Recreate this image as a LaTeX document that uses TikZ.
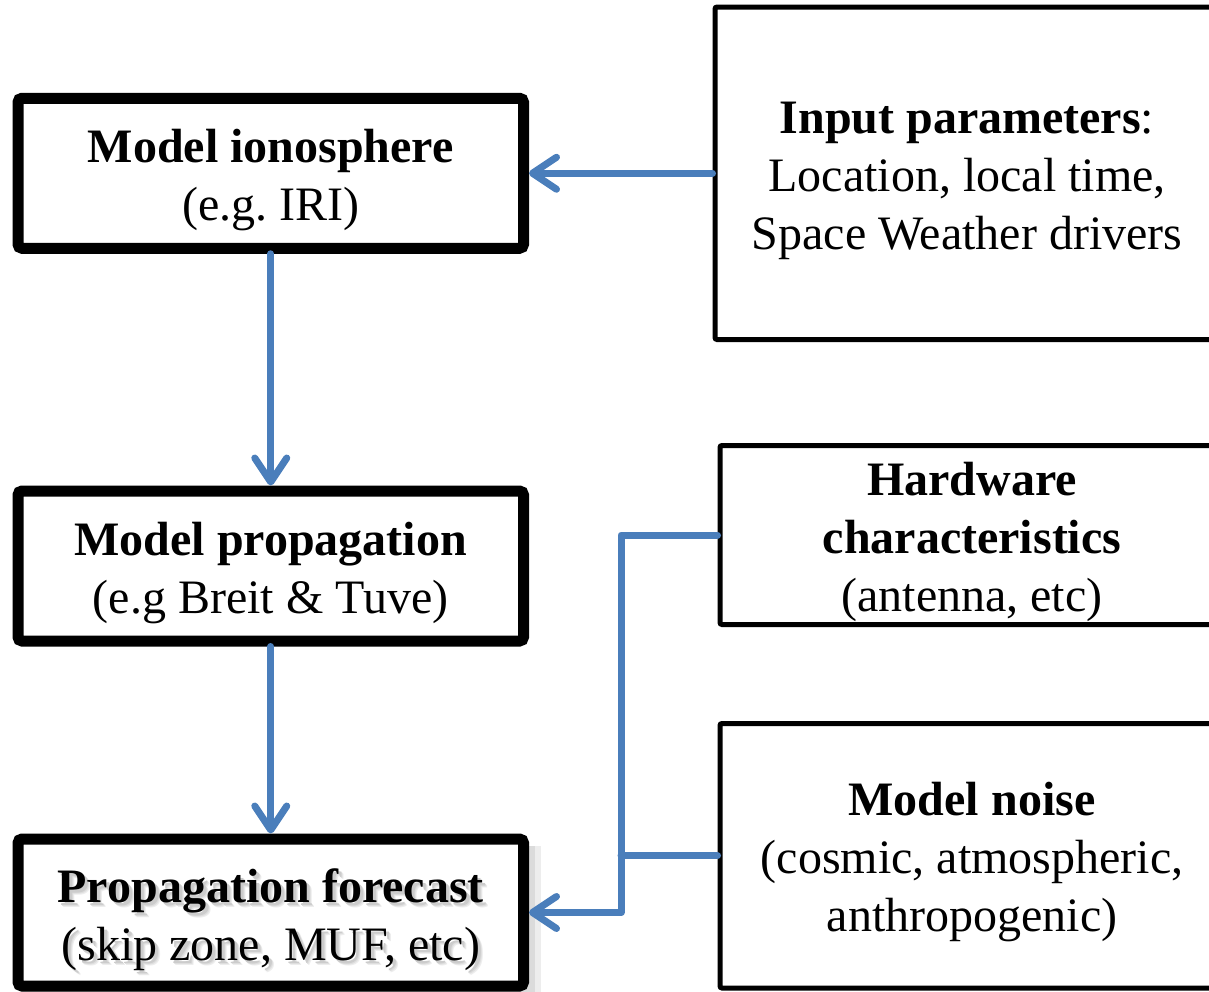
\documentclass[tikz,border=0pt]{standalone}
\usepackage{fontspec}
\newfontfamily\tnr{Liberation Serif}
\usetikzlibrary{arrows.meta,calc}
\definecolor{flowblue}{RGB}{74,126,187}
\newcommand{\forecasttext}{\textbf{Propagation forecast}\\(skip zone, MUF, etc)}
\begin{document}
\begin{tikzpicture}[x=0.5pt,y=-0.5pt,
  every node/.style={font=\tnr\fontsize{24pt}{29pt}\selectfont, align=center, inner sep=0pt},
  mainbox/.style={draw, line width=5.5pt, fill=white, rounded corners=2pt,
    minimum width=252.75pt, minimum height=75pt},
  sidebox/.style={draw, line width=2.5pt, fill=white, rounded corners=1pt,
    minimum width=252pt},
  link/.style={draw=flowblue, line width=3.5pt, line cap=round, line join=round},
  arr/.style={link, -{Straight Barb[length=12pt,width=16pt,line cap=round,line join=round]}}]
\useasboundingbox (0,0) rectangle (1209,991);

% soft shadow to the right of the forecast box
\fill[black!7] (22,846) rectangle (541,995);
\fill[black!14] (22,846) rectangle (535,995);

% model chain on the left
\node[mainbox] (iono) at (270.75,173.25) {};
\node[mainbox] (prop) at (270.75,566) {};
\node[mainbox, minimum height=73.5pt] (fore) at (270.75,912.5) {};
\node (iono-t) at ($(iono.center)+(0,7)$) {\textbf{Model ionosphere}\\(e.g.\ IRI)};
\node (prop-t) at ($(prop.center)+(0,7)$) {\textbf{Model propagation}\\(e.g Breit \& Tuve)};
% graded drop shadow under the forecast text
\node[text=black!7] (fore-s1) at ($(fore.center)+(5,12)$) {\forecasttext};
\node[text=black!13] (fore-s2) at ($(fore.center)+(4,11)$) {\forecasttext};
\node[text=black!20] (fore-s3) at ($(fore.center)+(3,10)$) {\forecasttext};
\node (fore-t) at ($(fore.center)+(0,7)$) {\forecasttext};

% inputs on the right
\node[sidebox, minimum height=166.25pt] (input) at (967,173.25) {};
\node[sidebox, minimum height=89.5pt] (hw) at (972,535) {};
\node[sidebox, minimum height=132.25pt] (noise) at (972,855.75) {};
\node (input-t) at ($(input.center)+(0,8)$)
  {\textbf{Input parameters}:\\Location, local time,\\Space Weather drivers};
\node (hw-t) at ($(hw.center)+(0,7)$)
  {\textbf{Hardware}\\\textbf{characteristics}\\(antenna, etc)};
\node (noise-t) at ($(noise.center)+(0,6)$)
  {\textbf{Model noise}\\(cosmic, atmospheric,\\anthropogenic)};

% connectors
\coordinate (bus) at (621,912.5);
\draw[arr] (input.west) -- (iono.east);
\draw[arr] (iono.south) -- (prop.north);
\draw[arr] (prop.south) -- (fore.north);
\draw[arr] (hw.west) -| (bus) -- (fore.east);
\draw[link] (noise.west) -- (noise.west -| bus);
\end{tikzpicture}
\end{document}
